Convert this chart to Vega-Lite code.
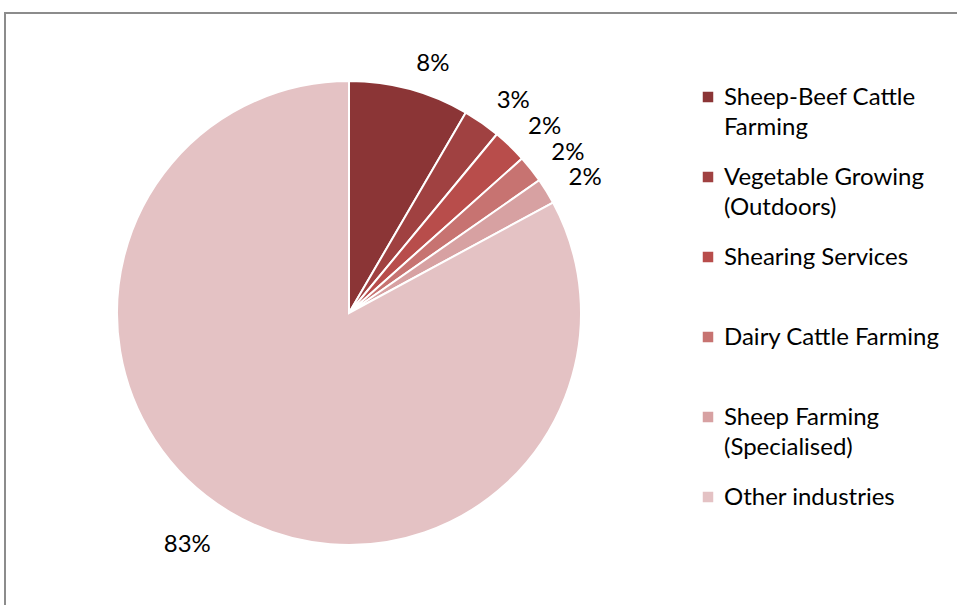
{
  "$schema": "https://vega.github.io/schema/vega-lite/v6.json",
  "width": 954,
  "height": 594,
  "autosize": {"type": "none"},
  "padding": {"left": 5, "top": 13, "right": 0, "bottom": 0},
  "background": "white",
  "view": {"stroke": "#8c8c8c", "strokeWidth": 2},
  "config": {
    "font": "Lato",
    "style": {"guide-label": {"lineHeight": 30, "dy": -11}}
  },
  "data": {
    "values": [
      {"idx": 1, "industry": "Sheep-Beef Cattle Farming", "share": 0.084},
      {"idx": 2, "industry": "Vegetable Growing (Outdoors)", "share": 0.026},
      {"idx": 3, "industry": "Shearing Services", "share": 0.024},
      {"idx": 4, "industry": "Dairy Cattle Farming", "share": 0.019},
      {"idx": 5, "industry": "Sheep Farming (Specialised)", "share": 0.018},
      {"idx": 6, "industry": "Other industries", "share": 0.829}
    ]
  },
  "encoding": {
    "theta": {"field": "share", "type": "quantitative", "stack": true},
    "order": {"field": "idx", "type": "quantitative"}
  },
  "layer": [
    {
      "mark": {"type": "arc", "outerRadius": 232, "x": 344, "y": 300, "stroke": "white", "strokeWidth": 2},
      "encoding": {
        "color": {
          "field": "industry",
          "type": "nominal",
          "scale": {
            "domain": ["Sheep-Beef Cattle Farming", "Vegetable Growing (Outdoors)", "Shearing Services", "Dairy Cattle Farming", "Sheep Farming (Specialised)", "Other industries"],
            "range": ["#8B3536", "#A04141", "#B84D4B", "#C77371", "#D7A1A2", "#E4C2C4"]
          },
          "legend": {
            "orient": "none",
            "legendX": 691,
            "legendY": 64,
            "title": null,
            "symbolType": "square",
            "symbolSize": 110,
            "symbolStrokeWidth": 0,
            "labelFont": "Lato",
            "labelFontSize": 24,
            "labelColor": "black",
            "labelOffset": 4,
            "labelLimit": 300,
            "labelBaseline": "top",
            "clipHeight": 40,
            "rowPadding": 17,
            "labelExpr": "datum.label == 'Sheep-Beef Cattle Farming' ? ['Sheep-Beef Cattle', 'Farming'] : datum.label == 'Vegetable Growing (Outdoors)' ? ['Vegetable Growing', '(Outdoors)'] : datum.label == 'Sheep Farming (Specialised)' ? ['Sheep Farming', '(Specialised)'] : [datum.label, ' ']"
          }
        }
      }
    },
    {
      "mark": {
        "type": "text",
        "x": 344,
        "y": 300,
        "radius": {"expr": "datum.share > 0.5 ? 270 : 258"},
        "align": {"expr": "datum.share > 0.5 ? 'right' : 'left'"},
        "baseline": "middle",
        "fontSize": 24,
        "font": "Lato",
        "color": "black"
      },
      "encoding": {
        "text": {"field": "share", "type": "quantitative", "format": ".0%"}
      }
    }
  ]
}
